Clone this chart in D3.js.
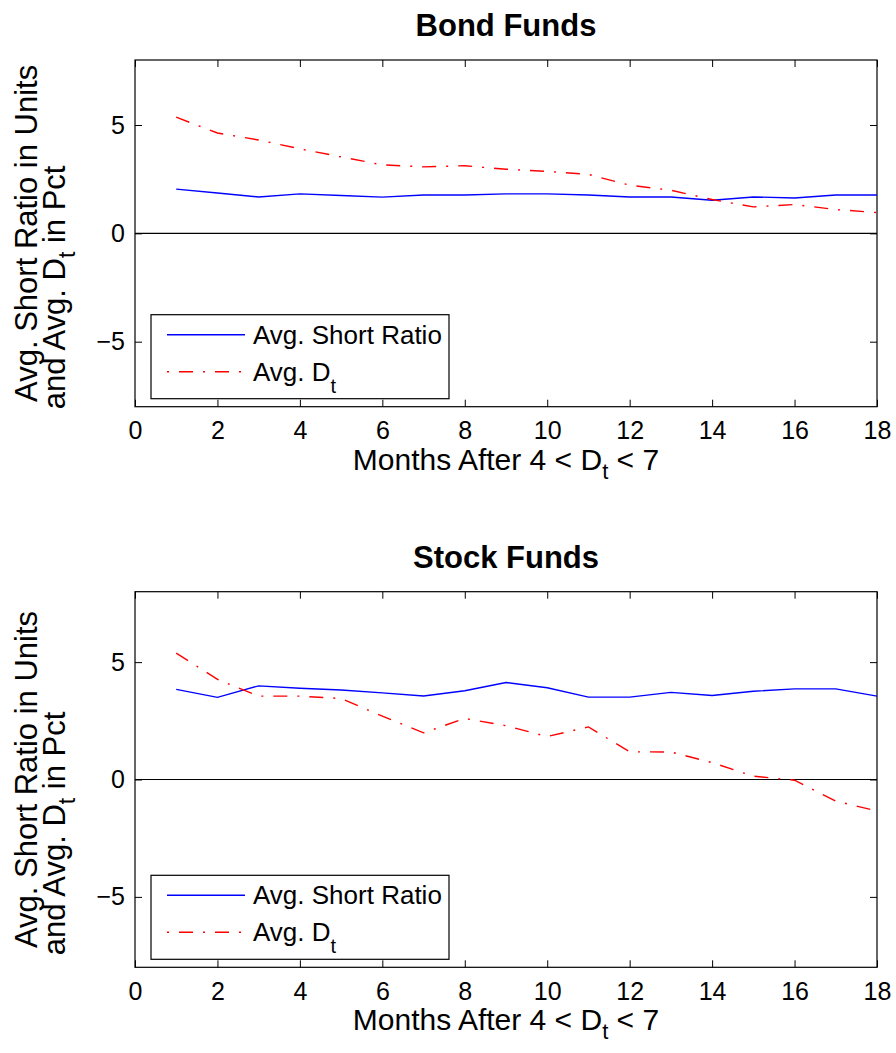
<!DOCTYPE html>
<meta charset="utf-8">
<style>
body { margin: 0; background: #fff; }
text { font-family: 'Liberation Sans', Arial, Helvetica, sans-serif; fill: #000; }
.frame { fill: none; stroke: #000; stroke-width: 1.2px; }
.tick line { stroke: #000; stroke-width: 1px; }
.short { fill: none; stroke: #0000ff; stroke-width: 1.4px; }
.dt { fill: none; stroke: #ff0000; stroke-width: 1.4px; stroke-dasharray: 14 10 2 10; }
</style>
<svg></svg>
<script src="https://cdn.jsdelivr.net/npm/d3@7"></script>
<script>

// months after the 4 < D_t < 7 event
var months = [1,2,3,4,5,6,7,8,9,10,11,12,13,14,15,16,17,18]

var bondShort = [2.04,1.86,1.68,1.82,1.75,1.67,1.77,1.77,1.82,1.82,1.77,1.68,1.68,1.53,1.68,1.63,1.77,1.77]
var bondD     = [5.36,4.63,4.31,3.90,3.53,3.16,3.07,3.12,2.96,2.86,2.72,2.22,1.99,1.56,1.22,1.33,1.10,0.96]

var stockShort = [3.84,3.50,3.99,3.89,3.81,3.69,3.56,3.78,4.13,3.91,3.51,3.51,3.71,3.58,3.76,3.86,3.86,3.55]
var stockD     = [5.38,4.27,3.55,3.55,3.45,2.70,1.99,2.60,2.29,1.83,2.24,1.18,1.17,0.72,0.14,-0.03,-0.92,-1.34]

var xTicks = [0,2,4,6,8,10,12,14,16,18]
var yTicks = [-5,0,5]
var titles = ['Bond Funds', 'Stock Funds']
var legendLabels = ['Avg. Short Ratio', 'Avg. D']

var width = 896, height = 1053

var svg = d3.select('svg')
            .attr('width', width)
            .attr('height', height)

var panels = [
    {title: titles[0], short: bondShort, d: bondD, top: 60, bottom: 406.7},
    {title: titles[1], short: stockShort, d: stockD, top: 591.7, bottom: 967.3}
]

var left = 135, right = 877

panels.forEach(function (p) {
    var x = d3.scaleLinear().domain([0, 18]).range([left, right])
    var y = d3.scaleLinear().domain([-8, 8]).range([p.bottom, p.top])
    var g = svg.append('g')

    // zero line
    g.append('line')
        .attr('x1', x(0)).attr('x2', x(18))
        .attr('y1', y(0)).attr('y2', y(0))
        .attr('stroke', '#000').attr('stroke-width', 1.2)

    // axes, ticks pointing inward on all four sides
    var tl = 7
    g.append('g').attr('transform', 'translate(0,' + p.bottom + ')')
        .call(d3.axisBottom(x).tickValues(xTicks).tickSize(-tl).tickPadding(15))
        .call(s => s.select('.domain').remove())
        .call(s => s.selectAll('text').style('font-size', '25px').attr('font-family', null))
    g.append('g').attr('transform', 'translate(0,' + p.top + ')')
        .call(d3.axisTop(x).tickValues(xTicks).tickSize(-tl).tickFormat(''))
        .call(s => s.select('.domain').remove())
    g.append('g').attr('transform', 'translate(' + left + ',0)')
        .call(d3.axisLeft(y).tickValues(yTicks).tickSize(-tl).tickPadding(10)
              .tickFormat(d => d < 0 ? '\u2212' + Math.abs(d) : d))
        .call(s => s.select('.domain').remove())
        .call(s => s.selectAll('text').style('font-size', '25px').attr('font-family', null))
    g.append('g').attr('transform', 'translate(' + right + ',0)')
        .call(d3.axisRight(y).tickValues(yTicks).tickSize(-tl).tickFormat(''))
        .call(s => s.select('.domain').remove())

    g.append('rect').attr('class', 'frame')
        .attr('x', left).attr('y', p.top)
        .attr('width', right - left).attr('height', p.bottom - p.top)

    var line = d3.line().x((d, i) => x(months[i])).y(d => y(d))

    g.append('path').datum(p.short).attr('class', 'short').attr('d', line)
    g.append('path').datum(p.d).attr('class', 'dt').attr('d', line)

    // title
    g.append('text')
        .attr('x', (left + right) / 2).attr('y', p.top - 24)
        .attr('text-anchor', 'middle')
        .style('font-size', '31px').style('font-weight', 'bold')
        .text(p.title)

    // x label
    var xl = g.append('text')
        .attr('x', (left + right) / 2).attr('y', p.bottom + 63)
        .attr('text-anchor', 'middle')
        .style('font-size', '30px')
    xl.append('tspan').text('Months After 4 < D')
    xl.append('tspan').attr('dy', 9).style('font-size', '22px').text('t')
    xl.append('tspan').attr('dy', -9).text(' < 7')

    // y label, two lines
    var cy = (p.top + p.bottom) / 2
    g.append('text')
        .attr('transform', 'translate(37,' + cy + ') rotate(-90)')
        .attr('text-anchor', 'middle')
        .style('font-size', '31px')
        .text('Avg. Short Ratio in Units')
    var yl = g.append('text')
        .attr('transform', 'translate(65,' + (cy + 54) + ') rotate(-90)')
        .attr('text-anchor', 'middle')
        .style('font-size', '31px')
    yl.append('tspan').text('and Avg. D')
    yl.append('tspan').attr('dy', 10).style('font-size', '23px').text('t')
    yl.append('tspan').attr('dy', -10).text(' in Pct')

    // legend
    var lx = left + 16, ly = p.bottom - 8 - 84
    var lg = g.append('g')
    lg.append('rect')
        .attr('x', lx).attr('y', ly).attr('width', 298).attr('height', 84)
        .attr('fill', '#fff').attr('stroke', '#000').attr('stroke-width', 1.2)
    var rows = [20, 57]
    var cls = ['short', 'dt']
    rows.forEach(function (ry, i) {
        lg.append('line').attr('class', cls[i])
            .attr('x1', lx + 16).attr('x2', lx + 94)
            .attr('y1', ly + ry).attr('y2', ly + ry)
            .style('stroke-dashoffset', i == 1 ? 24 : null)
        var t = lg.append('text')
            .attr('x', lx + 102).attr('y', ly + ry + 9)
            .style('font-size', '26px')
        t.append('tspan').text(legendLabels[i])
        if (i == 1) {
            t.append('tspan').attr('dy', 12).style('font-size', '20px').text('t')
        }
    })
})
</script>
